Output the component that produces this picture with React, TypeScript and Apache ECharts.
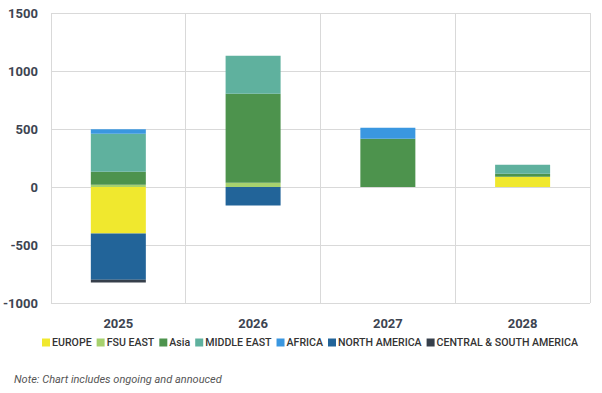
import React, { useEffect, useRef } from "react";
import * as echarts from "echarts";

const categories = ["2025", "2026", "2027", "2028"];
const seriesNames = [
  "EUROPE",
  "FSU EAST",
  "Asia",
  "MIDDLE EAST",
  "AFRICA",
  "NORTH AMERICA",
  "CENTRAL & SOUTH AMERICA",
];
const europe = [-400, 0, 0, 88];
const fsuEast = [20, 37, 0, 0];
const asia = [112, 767, 415, 27];
const middleEast = [327, 328, 0, 77];
const africa = [38, 0, 95, 0];
const northAmerica = [-400, -160, 0, 0];
const centralSouthAmerica = [-23, 0, 0, 0];
const colors = ["#f0e82e", "#a6d16e", "#4d934d", "#5fb19e", "#3a97e0", "#226499", "#363f4b"];
const noteText = "Note: Chart includes ongoing and annouced";

export default function App() {
  const ref = useRef<HTMLDivElement>(null);
  useEffect(() => {
    document.body.style.margin = "0";
    if (!ref.current) return;
    const chart = echarts.init(ref.current, undefined, { renderer: "svg" });
    const values = [europe, fsuEast, asia, middleEast, africa, northAmerica, centralSouthAmerica];
    chart.setOption({
      animation: false,
      textStyle: { fontFamily: "Roboto" },
      grid: { left: 50, right: 12, top: 13, bottom: 90, containLabel: false },
      legend: {
        data: seriesNames,
        left: 37,
        top: 332,
        icon: "rect",
        itemWidth: 8,
        itemHeight: 8,
        itemGap: 5,
        textStyle: { fontSize: 10.6, color: "#333", fontWeight: 500, fontFamily: "Roboto", padding: [0, 0, 0, -3] },
      },
      graphic: [
        {
          type: "text",
          left: 14,
          top: 374,
          style: { text: noteText, font: "italic 11px Roboto", fill: "#555" },
        },
      ],
      xAxis: {
        type: "category",
        data: categories,
        axisLine: { show: false },
        axisTick: { show: false },
        axisLabel: { fontSize: 13, fontWeight: "bold", color: "#3d4451", margin: 14 },
        splitLine: { show: true, lineStyle: { color: "#d9d9d9" } },
      },
      yAxis: {
        type: "value",
        min: -1000,
        max: 1500,
        interval: 500,
        axisLine: { show: false },
        axisTick: { show: false },
        axisLabel: {
          fontSize: 13,
          fontWeight: "bold",
          color: "#3d4451",
          margin: 13,
          formatter: (v: number) => String(v),
        },
        splitLine: { show: true, lineStyle: { color: "#d9d9d9" } },
      },
      series: seriesNames.map((name, i) => ({
        name,
        type: "bar",
        stack: "total",
        barWidth: 55,
        itemStyle: { color: colors[i] },
        data: values[i],
      })),
    });
    return () => chart.dispose();
  }, []);
  return <div ref={ref} style={{ width: 602, height: 393 }} />;
}
